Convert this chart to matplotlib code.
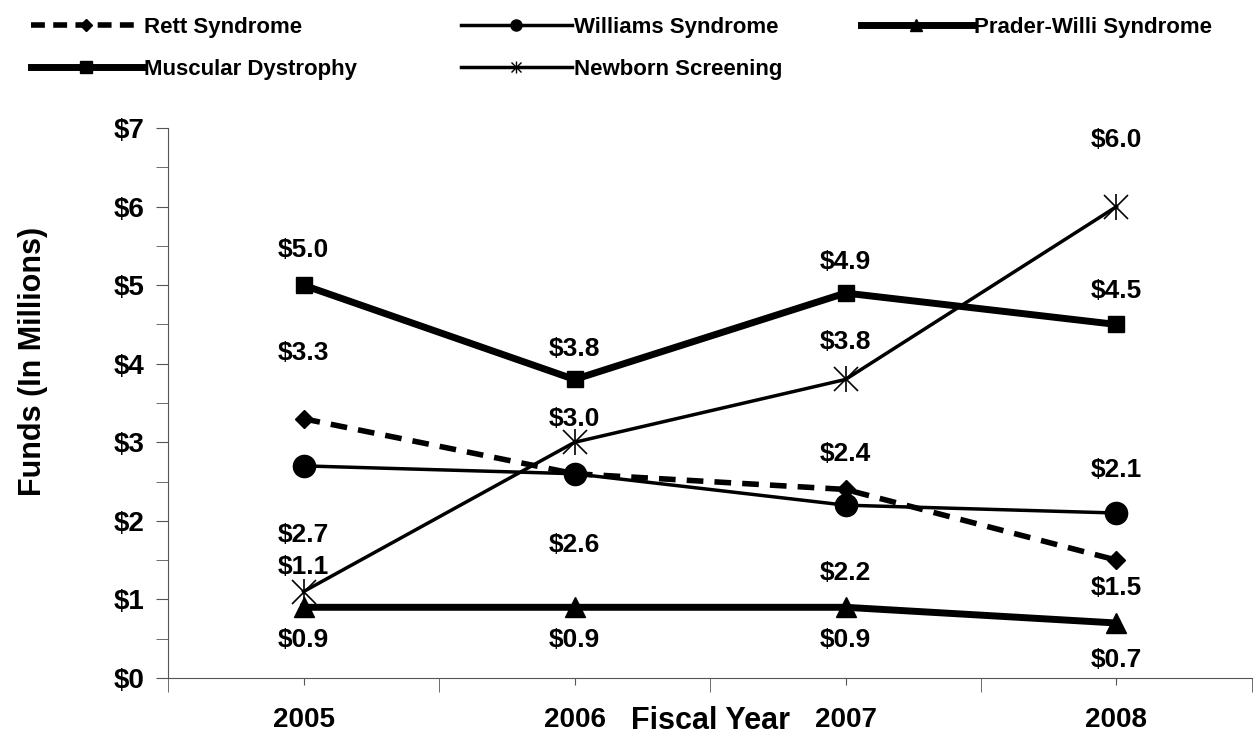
import matplotlib
matplotlib.use("Agg")
import matplotlib.pyplot as plt
from matplotlib.lines import Line2D

plt.rcParams['font.family'] = ['Liberation Sans', 'DejaVu Sans']
plt.rcParams['font.weight'] = 'bold'

years = ['2005', '2006', '2007', '2008']
rett = [3.3, 2.6, 2.4, 1.5]
williams = [2.7, 2.6, 2.2, 2.1]
prader = [0.9, 0.9, 0.9, 0.7]
muscular = [5.0, 3.8, 4.9, 4.5]
newborn = [1.1, 3.0, 3.8, 6.0]

# label offsets in pixels (negative = above), None = no label
rett_off = [-66, None, -35, 28]
williams_off = [69, 71, 68, -43]
prader_off = [33, 33, 33, 37]
muscular_off = [-35, -30, -31, -33]
newborn_off = [-25, -23, -37, -67]

x = [1, 2, 3, 4]

fig = plt.figure(figsize=(12.57, 7.36), dpi=100)
ax = fig.add_axes([0.1337, 0.0788, 0.8623, 0.7472])

ax.plot(x, muscular, color='black', lw=5, marker='s', ms=12)
ax.plot(x, rett, color='black', lw=4, ls=(0, (3, 2)), marker='D', ms=9)
ax.plot(x, williams, color='black', lw=2.5, marker='o', ms=16)
ax.plot(x, prader, color='black', lw=5, marker='^', ms=14)
ax.plot(x, newborn, color='black', lw=2.5, marker='x', ms=17, mew=1.2)
ax.plot(x, newborn, color='black', lw=0, marker='|', ms=19, mew=1.2)

def put_labels(vals, offs):
    for xi, v, o in zip(x, vals, offs):
        if o is None:
            continue
        ax.annotate('$%.1f' % v, (xi, v), xytext=(0, -o / 1.389),
                    textcoords='offset points', ha='center', va='center',
                    fontsize=19, fontweight='bold')

put_labels(muscular, muscular_off)
put_labels(rett, rett_off)
put_labels(williams, williams_off)
put_labels(prader, prader_off)
put_labels(newborn, newborn_off)

ax.set_xlim(0.5, 4.5)
ax.set_ylim(0, 7)
ax.spines['top'].set_visible(False)
ax.spines['right'].set_visible(False)
ax.spines['left'].set_color('#555555')
ax.spines['bottom'].set_color('#555555')

ax.set_xticks(x)
ax.set_xticklabels(years, fontsize=20, fontweight='bold')
ax.set_xticks([0.5, 1.5, 2.5, 3.5, 4.5], minor=True)
ax.tick_params(axis='x', which='major', length=5, pad=16, color='#555555')
ax.tick_params(axis='x', which='minor', length=10, color='#555555')

ax.set_yticks(range(8))
ax.set_yticklabels(['$%d' % i for i in range(8)], fontsize=20, fontweight='bold')
ax.set_yticks([i + 0.5 for i in range(7)], minor=True)
ax.tick_params(axis='y', which='both', length=9, pad=8, color='#555555')

ax.set_ylabel('Funds (In Millions)', fontsize=22, fontweight='bold', va='center')
ax.yaxis.set_label_coords(-0.1245, 0.575)
ax.text(0.5, -0.078, 'Fiscal Year', transform=ax.transAxes, ha='center',
        va='center', fontsize=22, fontweight='bold')

h_rett = Line2D([], [], color='black', lw=4, ls=(0, (2.5, 1.5)), marker='D', ms=6)
h_musc = Line2D([], [], color='black', lw=5, marker='s', ms=8)
h_will = Line2D([], [], color='black', lw=2.5, marker='o', ms=8)
h_newb = (Line2D([], [], color='black', lw=2.5, marker='x', ms=7, mew=1),
          Line2D([], [], color='black', lw=0, marker='|', ms=8, mew=1))
h_prad = Line2D([], [], color='black', lw=5, marker='^', ms=8)

columns = [
    ([h_rett, h_musc], ['Rett Syndrome', 'Muscular Dystrophy'], 22),
    ([h_will, h_newb], ['Williams Syndrome', 'Newborn Screening'], 452),
    ([h_prad], ['Prader-Willi Syndrome'], 852),
]
for hs, ls, px in columns:
    fig.legend(hs, ls, loc='upper left',
               bbox_to_anchor=(px / 1257.0, 1.0 - 8 / 736.0),
               borderaxespad=0.0, borderpad=0.4, frameon=False,
               handlelength=5.0, handletextpad=0.1, labelspacing=0.95,
               prop={'weight': 'bold', 'size': 16})

fig.savefig('out.png', dpi=100)
